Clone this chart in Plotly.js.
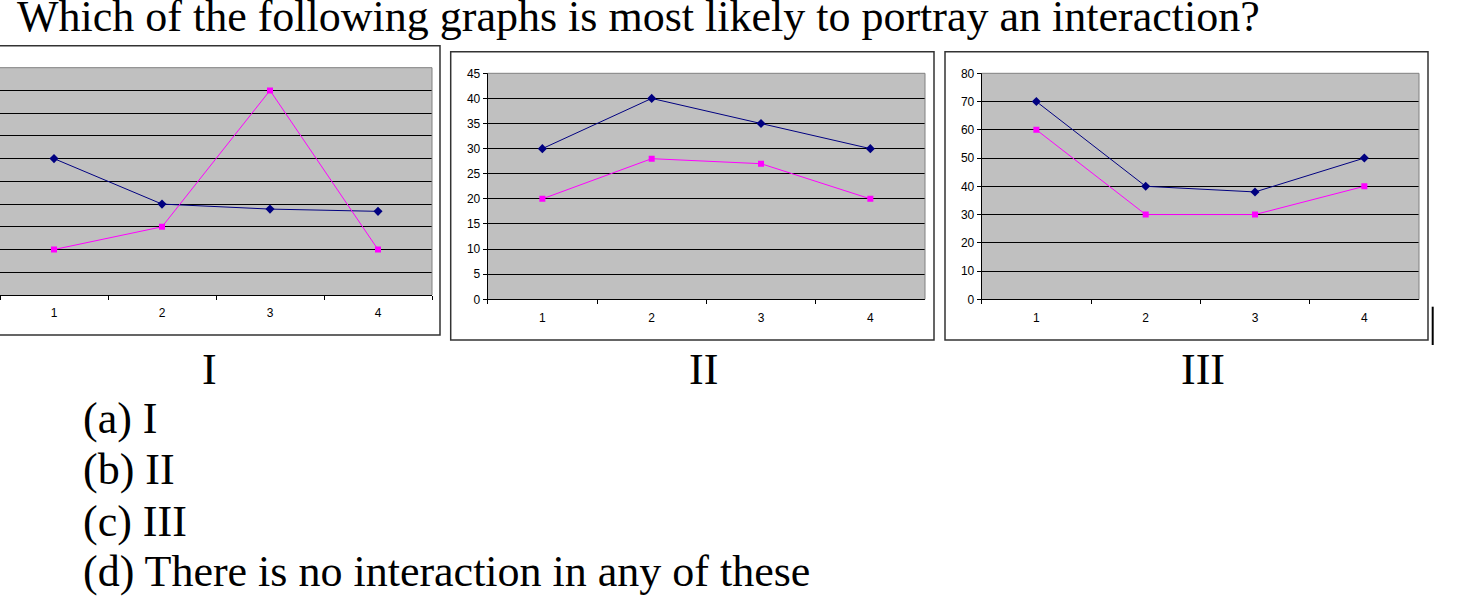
<!DOCTYPE html>
<html>
<head>
<meta charset="utf-8">
<script src="https://cdn.plot.ly/plotly-3.0.1.min.js"></script>
<style>
  html, body { margin: 0; padding: 0; background: #fff; }
  #graph { width: 1474px; height: 616px; }
</style>
</head>
<body>
<div id="graph"></div>
<script>
// data
var categories = ['1', '2', '3', '4'];

var blueI = [30, 20, 18.9, 18.4];
var pinkI = [10, 15, 45, 10];

var blueII = [30, 40, 35, 30];
var pinkII = [20, 28, 27, 20];

var blueIII = [70, 40, 38, 50];
var pinkIII = [60, 30, 30, 40];

var yMax = [50, 45, 80];
var yStep = [5, 5, 10];

var questionText = 'Which of the following graphs is most likely to portray an interaction?';
var panelNames = ['I', 'II', 'III'];
var answers = ['(a) I', '(b) II', '(c) III', '(d) There is no interaction in any of these'];

var W = 1474, H = 616;
var graph = document.getElementById('graph');

function px(x) { return x / W; }
function py(y) { return 1 - y / H; }

var blue = '#000080';
var pink = '#ff00ff';
var serif = 'Liberation Serif, Times New Roman, serif';
var sans = 'Liberation Sans, Arial, sans-serif';

function series(y, n, color, symbol, size) {
  var ax = n === 1 ? '' : n;
  return {
    x: categories,
    y: y,
    xaxis: 'x' + ax,
    yaxis: 'y' + ax,
    type: 'scatter',
    mode: 'lines+markers',
    line: { color: color, width: 1 },
    marker: { color: color, symbol: symbol, size: size },
    hoverinfo: 'none'
  };
}

var data = [
  series(blueI, 1, blue, 'diamond', 7),
  series(pinkI, 1, pink, 'square', 6),
  series(blueII, 2, blue, 'diamond', 7),
  series(pinkII, 2, pink, 'square', 6),
  series(blueIII, 3, blue, 'diamond', 7),
  series(pinkIII, 3, pink, 'square', 6)
];

function xAxis(left, right, anchor) {
  return {
    domain: [px(left), px(right)],
    anchor: anchor,
    type: 'category',
    range: [-0.5, categories.length - 0.5],
    tickson: 'boundaries',
    ticks: 'outside',
    ticklen: 4,
    tickcolor: '#000',
    showline: true,
    linecolor: '#000',
    linewidth: 1,
    showgrid: false,
    zeroline: false,
    ticklabelstandoff: 7,
    tickfont: { family: sans, size: 12, color: '#000' },
    fixedrange: true
  };
}

function yAxis(top, bottom, anchor, i, labels) {
  return {
    domain: [py(bottom), py(top)],
    anchor: anchor,
    range: [0, yMax[i]],
    tick0: 0,
    dtick: yStep[i],
    ticks: labels ? 'outside' : '',
    ticklen: 4,
    tickcolor: '#000',
    showticklabels: labels,
    showline: labels,
    linecolor: '#000',
    linewidth: 1,
    showgrid: true,
    gridcolor: '#000',
    gridwidth: 1,
    zeroline: false,
    tickfont: { family: sans, size: 12, color: '#000' },
    fixedrange: true
  };
}

// frames round each chart, in pixels
var frames = [
  [-5, 45.7, 440, 335],
  [450.7, 51.7, 934, 340],
  [945, 51.7, 1428, 340]
];

var shapes = frames.map(function (f) {
  return {
    type: 'rect', xref: 'paper', yref: 'paper',
    x0: px(f[0]), x1: px(f[2]), y0: py(f[3]), y1: py(f[1]),
    line: { color: '#333', width: 1.5 }
  };
});

// grey top and right edges of each plot area
['', '2', '3'].forEach(function (ax) {
  shapes.push({
    type: 'line', xref: 'x' + ax + ' domain', yref: 'y' + ax + ' domain',
    x0: 0, x1: 1, y0: 1, y1: 1, layer: 'above',
    line: { color: '#808080', width: 1 }
  });
  shapes.push({
    type: 'line', xref: 'x' + ax + ' domain', yref: 'y' + ax + ' domain',
    x0: 1, x1: 1, y0: 0, y1: 1, layer: 'above',
    line: { color: '#808080', width: 1 }
  });
});

// the little text cursor at the right
shapes.push({
  type: 'line', xref: 'paper', yref: 'paper',
  x0: px(1432.7), x1: px(1432.7), y0: py(345), y1: py(306.7),
  line: { color: '#000', width: 2 }
});

function textNote(text, x, baseline, anchor) {
  return {
    text: text, xref: 'paper', yref: 'paper',
    x: px(x), y: py(baseline + 10.5),
    xanchor: anchor, yanchor: 'bottom',
    showarrow: false,
    font: { family: serif, size: 44, color: '#000' }
  };
}

var annotations = [textNote(questionText, 15, 33, 'left')];
var nameX = [210, 703, 1203];
panelNames.forEach(function (n, i) {
  annotations.push(textNote(n, nameX[i], 385, 'center'));
});
var answerBase = [434, 485, 537, 587];
answers.forEach(function (a, i) {
  annotations.push(textNote(a, 81, answerBase[i], 'left'));
});

var layout = {
  width: W,
  height: H,
  margin: { l: 0, r: 0, t: 0, b: 0, pad: 0 },
  paper_bgcolor: '#fff',
  plot_bgcolor: '#c0c0c0',
  showlegend: false,
  xaxis: xAxis(0, 432, 'y'),
  yaxis: yAxis(67.7, 295, 'x', 0, false),
  xaxis2: xAxis(487.7, 925, 'y2'),
  yaxis2: yAxis(73.3, 299.3, 'x2', 1, true),
  xaxis3: xAxis(981.7, 1419, 'y3'),
  yaxis3: yAxis(73.3, 299.3, 'x3', 2, true),
  shapes: shapes,
  annotations: annotations
};

Plotly.newPlot(graph, data, layout, { displayModeBar: false, staticPlot: true });
</script>
</body>
</html>
